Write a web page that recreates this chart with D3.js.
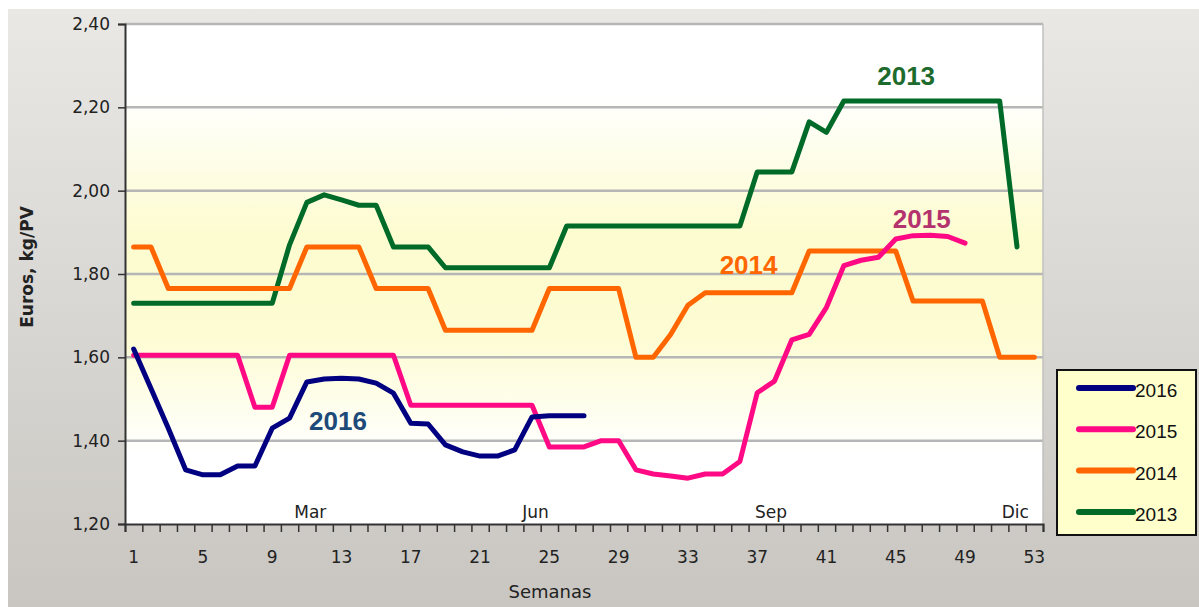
<!DOCTYPE html>
<html>
<head>
<meta charset="utf-8">
<script src="https://cdn.jsdelivr.net/npm/d3@7"></script>
<style>
  body { margin: 0; background: #fff; }
  text { font-family: "DejaVu Sans", Verdana, sans-serif; }
  text.narrow { font-family: "Liberation Sans", Arial, sans-serif; }
</style>
</head>
<body>
<script>
// precio conejo, euros kg/PV por semana
let years = ['2016', '2015', '2014', '2013']
let colors = { '2016': '#000080', '2015': '#ff0a84', '2014': '#ff6600', '2013': '#006a28' }
let labelColors = { '2016': '#1d4a78', '2015': '#b4336e', '2014': '#ff6600', '2013': '#1e6b2e' }

let s2013 = [1.73, 1.73, 1.73, 1.73, 1.73, 1.73, 1.73, 1.73, 1.73, 1.87, 1.972, 1.99, 1.978, 1.965, 1.965,
    1.865, 1.865, 1.865, 1.815, 1.815, 1.815, 1.815, 1.815, 1.815, 1.815,
    1.915, 1.915, 1.915, 1.915, 1.915, 1.915, 1.915, 1.915, 1.915, 1.915, 1.915,
    2.045, 2.045, 2.045, 2.165, 2.14, 2.215, 2.215, 2.215, 2.215, 2.215, 2.215, 2.215, 2.215, 2.215, 2.215, 1.865]
let s2014 = [1.865, 1.865, 1.765, 1.765, 1.765, 1.765, 1.765, 1.765, 1.765, 1.765, 1.865, 1.865, 1.865, 1.865,
    1.765, 1.765, 1.765, 1.765, 1.665, 1.665, 1.665, 1.665, 1.665, 1.665, 1.765, 1.765, 1.765, 1.765, 1.765,
    1.60, 1.60, 1.655, 1.725, 1.755, 1.755, 1.755, 1.755, 1.755, 1.755, 1.855, 1.855, 1.855, 1.855, 1.855, 1.855,
    1.735, 1.735, 1.735, 1.735, 1.735, 1.60, 1.60, 1.60]
let s2015 = [1.605, 1.605, 1.605, 1.605, 1.605, 1.605, 1.605, 1.48, 1.48, 1.605, 1.605, 1.605, 1.605, 1.605, 1.605, 1.605,
    1.485, 1.485, 1.485, 1.485, 1.485, 1.485, 1.485, 1.485, 1.385, 1.385, 1.385, 1.40, 1.40,
    1.33, 1.32, 1.315, 1.31, 1.32, 1.32, 1.35, 1.515, 1.543, 1.642, 1.655, 1.72, 1.82, 1.833, 1.84, 1.884, 1.892, 1.893, 1.89, 1.874]
let s2016 = [1.62, 1.525, 1.43, 1.33, 1.318, 1.318, 1.339, 1.339, 1.43, 1.454, 1.541, 1.548, 1.55, 1.548, 1.538, 1.514,
    1.442, 1.44, 1.39, 1.373, 1.363, 1.363, 1.378, 1.457, 1.46, 1.46, 1.46]

let seriesValues = { '2016': s2016, '2015': s2015, '2014': s2014, '2013': s2013 }

let yTicks = [1.20, 1.40, 1.60, 1.80, 2.00, 2.20, 2.40]
let xTickLabels = [1, 5, 9, 13, 17, 21, 25, 29, 33, 37, 41, 45, 49, 53]
let months = [{ name: 'Mar', week: 11.2 }, { name: 'Jun', week: 24.2 }, { name: 'Sep', week: 37.8 }, { name: 'Dic', week: 51.9 }]
let lineLabels = [
    { year: '2013', week: 45.6, value: 2.254 },
    { year: '2015', week: 46.5, value: 1.91 },
    { year: '2014', week: 36.5, value: 1.80 },
    { year: '2016', week: 12.8, value: 1.425 }
]

let width = 1199, height = 607
let margin = { top: 24, left: 125, right: 156, bottom: 83 }

let svg = d3.select("body")
    .append("svg")
    .attr("width", width)
    .attr("height", height)

let defs = svg.append("defs")
let outerGrad = defs.append("linearGradient").attr("id", "outer").attr("x1", 0).attr("y1", 0).attr("x2", 0).attr("y2", 1)
outerGrad.append("stop").attr("offset", "0%").attr("stop-color", "#e9e8e5")
outerGrad.append("stop").attr("offset", "100%").attr("stop-color", "#c9c6c1")
let plotGrad = defs.append("linearGradient").attr("id", "plotbg").attr("x1", 0).attr("y1", 0).attr("x2", 0).attr("y2", 1)
plotGrad.append("stop").attr("offset", "0%").attr("stop-color", "#ffffff")
plotGrad.append("stop").attr("offset", "14%").attr("stop-color", "#ffffff")
plotGrad.append("stop").attr("offset", "42%").attr("stop-color", "#fdfcd0")
plotGrad.append("stop").attr("offset", "62%").attr("stop-color", "#fdfcd2")
plotGrad.append("stop").attr("offset", "86%").attr("stop-color", "#ffffff")
plotGrad.append("stop").attr("offset", "100%").attr("stop-color", "#ffffff")

svg.append("rect")
    .attr("x", 8).attr("y", 9)
    .attr("width", width - 8).attr("height", height - 9)
    .attr("fill", "url(#outer)")

let x = d3.scaleLinear()
    .domain([0.5, 53.5])
    .range([margin.left, width - margin.right])

let y = d3.scaleLinear()
    .domain([1.20, 2.40])
    .range([height - margin.bottom, margin.top])

svg.append("rect")
    .attr("x", x(0.5)).attr("y", y(2.40))
    .attr("width", x(53.5) - x(0.5)).attr("height", y(1.20) - y(2.40))
    .attr("fill", "url(#plotbg)")

// gridlines
svg.append("g")
    .selectAll("line")
    .data(yTicks.slice(1))
    .join("line")
    .attr("x1", x(0.5)).attr("x2", x(53.5))
    .attr("y1", d => y(d)).attr("y2", d => y(d))
    .attr("stroke", "#b6b6b6")
    .attr("stroke-width", 2.5)

// right border of plot
svg.append("line")
    .attr("x1", x(53.5)).attr("x2", x(53.5))
    .attr("y1", y(2.40)).attr("y2", y(1.20))
    .attr("stroke", "#c0c0c0").attr("stroke-width", 1.5)

// y axis
let yAxis = d3.axisLeft(y)
    .tickValues(yTicks)
    .tickSize(7)
    .tickPadding(8)
    .tickFormat(d => d3.format(".2f")(d).replace('.', ','))
let gy = svg.append("g")
    .attr("transform", `translate(${x(0.5)},0)`)
    .call(yAxis)
gy.select(".domain").attr("stroke", "#333").attr("stroke-width", 2)
gy.selectAll(".tick line").attr("stroke", "#333").attr("stroke-width", 1.5)
gy.selectAll(".tick text").attr("font-size", 17).attr("fill", "#222")

// x axis: ticks between weeks, labels every 4 weeks
let xAxis = d3.axisBottom(x)
    .tickValues(d3.range(0.5, 54, 1))
    .tickSize(8)
    .tickFormat('')
let gx = svg.append("g")
    .attr("transform", `translate(0,${y(1.20)})`)
    .call(xAxis)
gx.select(".domain").attr("stroke", "#333").attr("stroke-width", 2)
gx.selectAll(".tick line").attr("stroke", "#333").attr("stroke-width", 1.5)

svg.append("g")
    .selectAll("text")
    .data(xTickLabels)
    .join("text")
    .attr("x", d => x(d))
    .attr("y", 563)
    .attr("text-anchor", "middle")
    .attr("font-size", 17)
    .attr("fill", "#222")
    .text(d => d)

svg.append("g")
    .selectAll("text")
    .data(months)
    .join("text")
    .attr("x", d => x(d.week))
    .attr("y", 518)
    .attr("text-anchor", "middle")
    .attr("font-size", 17)
    .attr("fill", "#222")
    .text(d => d.name)

svg.append("text")
    .attr("x", 550).attr("y", 598)
    .attr("text-anchor", "middle")
    .attr("font-size", 18)
    .attr("fill", "#222")
    .text("Semanas")

svg.append("text")
    .attr("transform", "translate(33,267) rotate(-90)")
    .attr("text-anchor", "middle")
    .attr("font-size", 17)
    .attr("font-weight", "bold")
    .attr("fill", "#222")
    .text("Euros, kg/PV")

// lines, 2013 first so 2016 ends on top
let line = d3.line()
    .x((d, i) => x(i + 1))
    .y(d => y(d))

years.slice().reverse().forEach(yr => {
    svg.append("path")
        .datum(seriesValues[yr])
        .attr("d", line)
        .attr("fill", "none")
        .attr("stroke", colors[yr])
        .attr("stroke-width", 5)
        .attr("stroke-linejoin", "round")
        .attr("stroke-linecap", "round")
})

svg.append("g")
    .selectAll("text")
    .data(lineLabels)
    .join("text")
    .attr("class", "narrow")
    .attr("x", d => x(d.week))
    .attr("y", d => y(d.value))
    .attr("text-anchor", "middle")
    .attr("font-weight", "bold")
    .attr("font-size", 26)
    .attr("fill", d => labelColors[d.year])
    .text(d => d.year)

// legend
let legend = svg.append("g")
legend.append("rect")
    .attr("x", 1057).attr("y", 370)
    .attr("width", 139).attr("height", 165)
    .attr("fill", "#ffffcc")
    .attr("stroke", "#111")
    .attr("stroke-width", 2)

let legendItems = legend.selectAll("g")
    .data(years)
    .join("g")
    .attr("transform", (d, i) => `translate(0,${388 + i * 41.3})`)
legendItems.append("line")
    .attr("x1", 1079).attr("x2", 1133)
    .attr("stroke", d => colors[d])
    .attr("stroke-width", 6)
    .attr("stroke-linecap", "round")
legendItems.append("text")
    .attr("class", "narrow")
    .attr("x", 1135).attr("y", 9)
    .attr("font-size", 19)
    .attr("fill", "#111")
    .text(d => d)
</script>
</body>
</html>
